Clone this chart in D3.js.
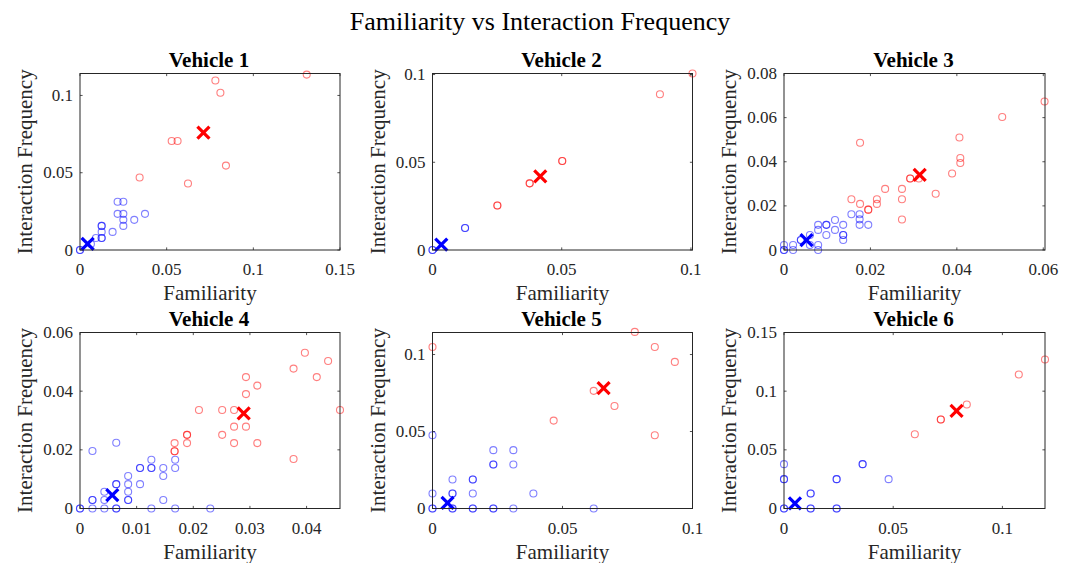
<!DOCTYPE html>
<html>
<head>
<meta charset="utf-8">
<script src="https://cdn.jsdelivr.net/npm/d3@7"></script>
<style>
  body { margin: 0; background: #fff; }
  svg { display: block; }
  text { font-family: "Liberation Serif", "Times New Roman", serif; fill: #262626; }
</style>
</head>
<body>
<svg id="chart" width="1073" height="563"></svg>
<script>
// ---------------------------------------------------------------------------
// data : [familiarity, interaction frequency]; repeated points overlap (darker)

const titles = ['Vehicle 1', 'Vehicle 2', 'Vehicle 3', 'Vehicle 4', 'Vehicle 5', 'Vehicle 6'];

const v1Blue = [
  [0, 0], [0, 0], [0.0063, 0.0039], [0.0092, 0.0078], [0.0125, 0.0078], [0.0125, 0.0078],
  [0.0125, 0.0117], [0.0125, 0.0156], [0.0125, 0.0156], [0.0188, 0.0117],
  [0.0217, 0.0312], [0.025, 0.0312], [0.0217, 0.0234], [0.025, 0.0234],
  [0.025, 0.0195], [0.025, 0.0156], [0.0313, 0.0195], [0.0375, 0.0234]
];
const v1Red = [
  [0.1308, 0.1135], [0.0781, 0.1097], [0.081, 0.1017], [0.0529, 0.0705], [0.0563, 0.0705],
  [0.0344, 0.0469], [0.0623, 0.043], [0.0842, 0.0546]
];

const v2Blue = [[0, 0], [0, 0], [0.0126, 0.0125], [0.0126, 0.0125]];
const v2Red = [
  [0.1006, 0.1006], [0.088, 0.0888], [0.0502, 0.0507], [0.0502, 0.0507],
  [0.0376, 0.038], [0.0376, 0.038], [0.0251, 0.0254], [0.0251, 0.0254]
];

const v3Blue = [
  [0, 0], [0, 0], [0, 0.0023], [0.0021, 0.0023], [0.0021, 0], [0.0039, 0.0045], [0.0039, 0.0045],
  [0.006, 0.0068], [0.006, 0.0023], [0.0079, 0.0023], [0.0079, 0], [0.0079, 0.0114],
  [0.0079, 0.0091], [0.0098, 0.0114], [0.0098, 0.0114], [0.0098, 0.0068], [0.0118, 0.0136],
  [0.0118, 0.0091], [0.0137, 0.0114], [0.0137, 0.0068], [0.0137, 0.0068], [0.0137, 0.0045],
  [0.0156, 0.0162], [0.0175, 0.0162], [0.0175, 0.0139], [0.0175, 0.0114], [0.0195, 0.0114]
];
const v3Red = [
  [0.0603, 0.0673], [0.0505, 0.0603], [0.0406, 0.051], [0.0408, 0.0417], [0.0408, 0.0394],
  [0.0389, 0.0347], [0.0351, 0.0255], [0.0176, 0.0486], [0.0156, 0.023], [0.0176, 0.0209],
  [0.0195, 0.0183], [0.0195, 0.0183], [0.0215, 0.023], [0.0215, 0.0209], [0.0234, 0.0277],
  [0.0273, 0.0277], [0.0273, 0.023], [0.0273, 0.0138], [0.0292, 0.0324], [0.0292, 0.0324],
  [0.0312, 0.0324]
];

const v4Blue = [
  [0, 0], [0, 0], [0.0022, 0], [0.0022, 0.0029], [0.0022, 0.0029], [0.0022, 0.0196],
  [0.0043, 0], [0.0043, 0.0029], [0.0043, 0.0057], [0.0064, 0], [0.0064, 0],
  [0.0064, 0.0083], [0.0064, 0.0083], [0.0064, 0.0224], [0.0085, 0.0029], [0.0085, 0.0029],
  [0.0085, 0.0057], [0.0085, 0.0083], [0.0085, 0.0111], [0.0106, 0.0083], [0.0106, 0.0138],
  [0.0106, 0.0138], [0.0126, 0.0138], [0.0126, 0.0138], [0.0126, 0.0166], [0.0126, 0],
  [0.0147, 0.0138], [0.0147, 0.0111], [0.0147, 0.0029], [0.0168, 0.0138], [0.0168, 0.0166],
  [0.0168, 0], [0.023, 0]
];
const v4Red = [
  [0.0397, 0.0531], [0.0438, 0.0503], [0.0418, 0.0448], [0.0377, 0.0477], [0.0459, 0.0336],
  [0.0377, 0.0169], [0.0293, 0.0448], [0.0293, 0.039], [0.0313, 0.0419], [0.0313, 0.0223],
  [0.0293, 0.0279], [0.0272, 0.0336], [0.0272, 0.0279], [0.0272, 0.0223], [0.0251, 0.0336],
  [0.0251, 0.0251], [0.021, 0.0336], [0.0189, 0.0251], [0.0189, 0.0251], [0.0189, 0.0223],
  [0.0167, 0.0195], [0.0167, 0.0195], [0.0167, 0.0223]
];

const v5Blue = [
  [0, 0.0476], [0, 0.0097], [0, 0], [0, 0], [0.0077, 0.0188], [0.0077, 0.0097], [0.0077, 0.0097],
  [0.0077, 0], [0.0077, 0], [0.0155, 0.0188], [0.0155, 0.0188], [0.0155, 0.0097], [0.0155, 0],
  [0.0155, 0], [0.0234, 0.0379], [0.0234, 0.0286], [0.0234, 0.0286], [0.0234, 0], [0.0234, 0],
  [0.0311, 0.0379], [0.0311, 0.0286], [0.0311, 0], [0.0388, 0.0097], [0.062, 0]
];
const v5Red = [
  [0.0778, 0.1147], [0.0855, 0.1049], [0.0932, 0.0952], [0, 0.1049], [0.062, 0.0764],
  [0.07, 0.0666], [0.0466, 0.0571], [0.0855, 0.0476]
];

const v6Blue = [
  [0, 0], [0, 0], [0, 0.025], [0, 0.025], [0, 0.0378], [0.0122, 0.0128], [0.0122, 0.0128],
  [0.0122, 0], [0.0122, 0], [0.0241, 0.025], [0.0241, 0.025], [0.0241, 0], [0.0241, 0],
  [0.036, 0.0378], [0.036, 0.0378], [0.0479, 0.025]
];
const v6Red = [
  [0.1195, 0.127], [0.1075, 0.1142], [0.0837, 0.0887], [0.0718, 0.0759], [0.0718, 0.0759],
  [0.0599, 0.0633]
];

/** cluster centres (the X markers) */
const blueCentres = [[0.0044, 0.0039], [0.0034, 0.0031], [0.0052, 0.0045], [0.0057, 0.0046], [0.0058, 0.0036], [0.005, 0.0043]];
const redCentres = [[0.0712, 0.0759], [0.0417, 0.0419], [0.0314, 0.0341], [0.0289, 0.0324], [0.0658, 0.0781], [0.079, 0.0832]];

/** axis limits */
const xMax = [0.15, 0.1006, 0.0604, 0.0459, 0.1, 0.1195];
const yMax = [0.1142, 0.1006, 0.08, 0.06, 0.1143, 0.15];

const xTicks = [
  [0, 0.05, 0.1, 0.15], [0, 0.05, 0.1], [0, 0.02, 0.04, 0.06],
  [0, 0.01, 0.02, 0.03, 0.04], [0, 0.05, 0.1], [0, 0.05, 0.1]
];
const yTicks = [
  [0, 0.05, 0.1], [0, 0.05, 0.1], [0, 0.02, 0.04, 0.06, 0.08],
  [0, 0.02, 0.04, 0.06], [0, 0.05, 0.1], [0, 0.05, 0.1, 0.15]
];

const blues = [v1Blue, v2Blue, v3Blue, v4Blue, v5Blue, v6Blue];
const reds = [v1Red, v2Red, v3Red, v4Red, v5Red, v6Red];

//------------------------------------------------------------------------------

const svg = d3.select('#chart');
const ink = '#262626';

/** axes box positions : column left/right, row top/bottom */
const cols = [[80, 340], [432.5, 692.5], [784, 1045]];
const rows = [[73.5, 250], [332.5, 508.5]];

const fmt = d => String(+d.toFixed(4));

svg.append('text')
  .attr('x', 540).attr('y', 30)
  .attr('text-anchor', 'middle')
  .style('font-size', '26px')
  .style('fill', '#000')
  .text('Familiarity vs Interaction Frequency');

function crossPath(s) {
  return `M${-s},${-s}L${s},${s}M${-s},${s}L${s},${-s}`;
}

titles.forEach((title, i) => {
  const
  [x0, x1] = cols[i % 3],
  [y0, y1] = rows[Math.floor(i / 3)],
  x = d3.scaleLinear().domain([0, xMax[i]]).range([x0, x1]),
  y = d3.scaleLinear().domain([0, yMax[i]]).range([y1, y0]),
  g = svg.append('g').attr('class', 'panel');

  // ticks, inward on all four sides
  const tl = 2.6;
  const tk = g.append('g').attr('stroke', ink).attr('stroke-width', 0.8);
  xTicks[i].forEach(t => {
    const px = x(t);
    tk.append('line').attr('x1', px).attr('x2', px).attr('y1', y1).attr('y2', y1 - tl);
    tk.append('line').attr('x1', px).attr('x2', px).attr('y1', y0).attr('y2', y0 + tl);
  });
  yTicks[i].forEach(t => {
    const py = y(t);
    tk.append('line').attr('x1', x0).attr('x2', x0 + tl).attr('y1', py).attr('y2', py);
    tk.append('line').attr('x1', x1).attr('x2', x1 - tl).attr('y1', py).attr('y2', py);
  });

  g.selectAll('text.xt').data(xTicks[i]).join('text')
    .attr('class', 'xt')
    .attr('x', d => x(d)).attr('y', y1 + 25)
    .attr('text-anchor', 'middle')
    .style('font-size', '17px')
    .text(fmt);
  g.selectAll('text.yt').data(yTicks[i]).join('text')
    .attr('class', 'yt')
    .attr('x', x0 - 7).attr('y', d => y(d))
    .attr('dy', '0.33em')
    .attr('text-anchor', 'end')
    .style('font-size', '17px')
    .text(fmt);

  // points
  const pts = g.append('g').attr('fill', 'none').attr('stroke-width', 1.1);
  pts.selectAll('circle.b').data(blues[i]).join('circle')
    .attr('class', 'b')
    .attr('cx', d => x(d[0])).attr('cy', d => y(d[1])).attr('r', 3.5)
    .attr('stroke', '#0000ff').attr('stroke-opacity', 0.5);
  pts.selectAll('circle.r').data(reds[i]).join('circle')
    .attr('class', 'r')
    .attr('cx', d => x(d[0])).attr('cy', d => y(d[1])).attr('r', 3.5)
    .attr('stroke', '#ff0000').attr('stroke-opacity', 0.5);

  [[blueCentres[i], '#0000ff'], [redCentres[i], '#ff0000']].forEach(([c, col]) => {
    g.append('path')
      .attr('d', crossPath(6))
      .attr('transform', `translate(${x(c[0])},${y(c[1])})`)
      .attr('stroke', col).attr('stroke-width', 3.2).attr('fill', 'none');
  });

  // box
  g.append('rect')
    .attr('x', x0).attr('y', y0).attr('width', x1 - x0).attr('height', y1 - y0)
    .attr('fill', 'none').attr('stroke', ink).attr('stroke-width', 1);

  // labels
  g.append('text')
    .attr('x', (x0 + x1) / 2).attr('y', y1 + 50)
    .attr('text-anchor', 'middle')
    .style('font-size', '21px')
    .text('Familiarity');
  g.append('text')
    .attr('transform', `translate(${x0 - 48},${(y0 + y1) / 2}) rotate(-90)`)
    .attr('text-anchor', 'middle')
    .style('font-size', '21px')
    .text('Interaction Frequency');
  g.append('text')
    .attr('x', (x0 + x1) / 2 - 1).attr('y', y0 - 7)
    .attr('text-anchor', 'middle')
    .style('font-size', '21px')
    .style('font-weight', 'bold')
    .style('fill', '#000')
    .text(title);
});
</script>
</body>
</html>
